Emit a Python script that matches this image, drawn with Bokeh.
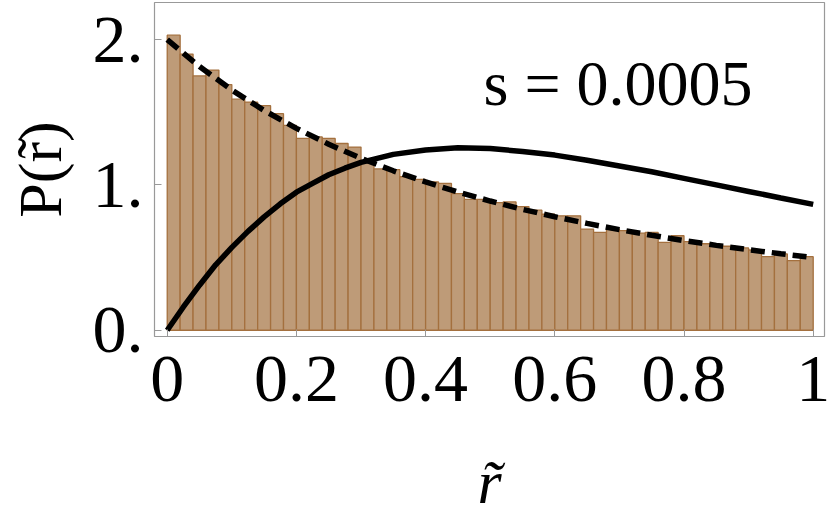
from bokeh.plotting import figure
from bokeh.models import Range1d, FixedTicker, Label, ColumnDataSource
from bokeh.embed import file_html
from bokeh.resources import INLINE

# ---- data ----
bin_width = 0.02
hist_heights = [2.03, 1.90, 1.75, 1.79, 1.69, 1.59, 1.57, 1.545, 1.49, 1.41,
                1.32, 1.33, 1.32, 1.285, 1.26, 1.16, 1.11, 1.105, 1.056, 1.038,
                1.02, 1.01, 0.94, 0.90, 0.90, 0.878, 0.883, 0.851, 0.826, 0.798,
                0.787, 0.787, 0.696, 0.673, 0.696, 0.685, 0.668, 0.673, 0.605, 0.650,
                0.610, 0.595, 0.586, 0.578, 0.566, 0.552, 0.506, 0.525, 0.479, 0.506]

solid_r = [0, 0.025, 0.05, 0.075, 0.1, 0.125, 0.15, 0.175, 0.2, 0.225, 0.25, 0.275,
           0.3, 0.35, 0.4, 0.45, 0.5, 0.55, 0.6, 0.65, 0.7, 0.75, 0.8, 0.85, 0.9, 0.95, 1.0]
solid_p = [0, 0.16, 0.31, 0.45, 0.57, 0.68, 0.78, 0.87, 0.95, 1.01, 1.07, 1.115,
           1.155, 1.21, 1.24, 1.255, 1.25, 1.23, 1.205, 1.17, 1.13, 1.09, 1.045, 1.0,
           0.955, 0.91, 0.866]

dash_r = [0, 0.05, 0.1, 0.15, 0.2, 0.25, 0.3, 0.35, 0.4, 0.45, 0.5,
          0.55, 0.6, 0.65, 0.7, 0.75, 0.8, 0.85, 0.9, 0.95, 1.0]
dash_p = [2.0, 1.814, 1.653, 1.512, 1.389, 1.28, 1.183, 1.097, 1.02, 0.951, 0.889,
          0.832, 0.781, 0.735, 0.692, 0.653, 0.617, 0.584, 0.554, 0.526, 0.5]

x_ticks = [0, 0.2, 0.4, 0.6, 0.8, 1]
x_tick_labels = ["0", "0.2", "0.4", "0.6", "0.8", "1"]
y_ticks = [0, 1, 2]
y_tick_labels = ["0.", "1.", "2."]
annotation = "s = 0.0005"
x_label = "r\u0303"
y_label = "P(r\u0303)"

# ---- figure ----
FONT = "Liberation Serif"
p = figure(width=830, height=518, output_backend="svg", toolbar_location=None,
           x_range=Range1d(-0.0197, 1.0175), y_range=Range1d(-0.0431, 2.255),
           min_border_left=154, min_border_right=6, min_border_top=2,
           min_border_bottom=180)
p.grid.visible = False
p.outline_line_color = "#999999"
p.outline_line_width = 1.2
p.background_fill_color = "white"
p.border_fill_color = "white"

n = len(hist_heights)
left = [i * bin_width for i in range(n)]
right = [(i + 1) * bin_width for i in range(n)]
src = ColumnDataSource(dict(left=left, right=right, top=hist_heights, bottom=[0] * n))
p.quad(left="left", right="right", top="top", bottom="bottom", source=src,
       fill_color="#BE9B78", line_color="#A4703E", line_width=1.3)

p.line(solid_r, solid_p, line_color="black", line_width=5.5)
p.line(dash_r, dash_p, line_color="black", line_width=5.5, line_dash="14 7")

for ax, ticks, labels in ((p.xaxis, x_ticks, x_tick_labels), (p.yaxis, y_ticks, y_tick_labels)):
    ax.ticker = FixedTicker(ticks=ticks)
    ax.major_label_overrides = {t: l for t, l in zip(ticks, labels)}
    ax.axis_line_color = None
    ax.major_tick_line_color = "#999999"
    ax.major_tick_in = 7
    ax.major_tick_out = 0
    ax.minor_tick_line_color = None
    ax.major_label_text_font = FONT
    ax.major_label_text_font_size = "68px"
    ax.major_label_text_color = "black"
    ax.axis_label_text_font = FONT
    ax.axis_label_text_color = "black"

p.xaxis.major_label_standoff = 20
p.yaxis.major_label_standoff = 11

p.xaxis.axis_label = x_label
p.xaxis.axis_label_text_font_style = "italic"
p.xaxis.axis_label_text_font_size = "62px"
p.xaxis.axis_label_standoff = 44

p.yaxis.axis_label = y_label
p.yaxis.axis_label_text_font_style = "normal"
p.yaxis.axis_label_text_font_size = "62px"
p.yaxis.axis_label_standoff = 16

# annotation text
p.add_layout(Label(x=0.4896, y=1.70, text=annotation, text_font=FONT,
                   text_font_size="64px", text_color="black",
                   text_align="left", text_baseline="alphabetic"))

open("out.html", "w").write(file_html(p, INLINE))
